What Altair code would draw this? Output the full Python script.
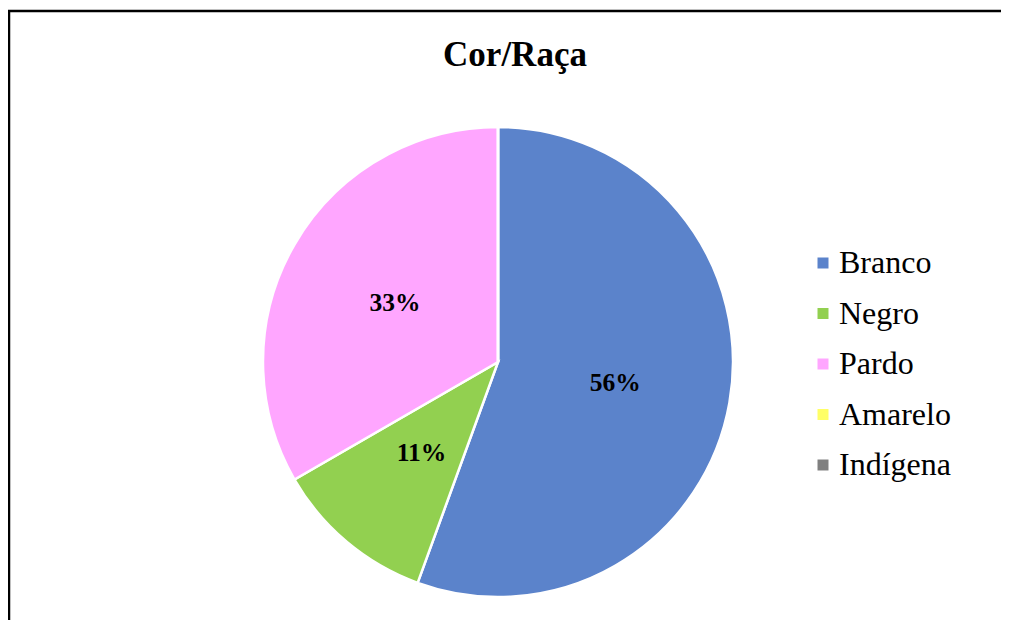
import altair as alt
import pandas as pd

categories = ["Branco", "Negro", "Pardo", "Amarelo", "Indígena"]
counts = [5, 1, 3, 0, 0]
labels = ["56%", "11%", "33%", "", ""]
colors = ["#5B83CB", "#92D050", "#FFA6FF", "#FFFF66", "#808080"]
title_text = "Cor/Raça"

df = pd.DataFrame({"cat": categories, "n": counts, "ord": list(range(len(categories))), "label": labels})
one = pd.DataFrame({"a": [0]})

W, H = 993, 612
cx, cy, R = 490, 354, 235
FONT = "Liberation Serif"

base = alt.Chart(df).encode(
    theta=alt.Theta("n:Q", stack=True),
    order=alt.Order("ord:Q"),
)

pie = base.mark_arc(outerRadius=R, stroke="white", strokeWidth=2.5).encode(
    x=alt.value(cx),
    y=alt.value(cy),
    color=alt.Color(
        "cat:N",
        scale=alt.Scale(domain=categories, range=colors),
        sort=categories,
        legend=alt.Legend(
            orient="none", legendX=799, legendY=239, title=None,
            symbolType="square", symbolSize=121, symbolStrokeWidth=0,
            labelFont=FONT, labelFontSize=32, labelColor="black",
            rowPadding=18.5, labelOffset=0, padding=0,
        ),
    ),
)

text = base.mark_text(radius=119, font=FONT, fontSize=25.5, fontWeight="bold",
                      color="black", baseline="middle", align="center").encode(
    x=alt.value(cx), y=alt.value(cy), text="label:N",
)

title = alt.Chart(one).mark_text(text=title_text, font=FONT, fontSize=35, fontWeight="bold",
                                 color="black", baseline="alphabetic", align="center").encode(
    x=alt.value(507), y=alt.value(58),
)

frame_top = alt.Chart(one).mark_rule(color="black", strokeWidth=2.5).encode(
    x=alt.value(0), x2=alt.value(W), y=alt.value(3),
)
frame_left = alt.Chart(one).mark_rule(color="black", strokeWidth=2.5).encode(
    x=alt.value(1), y=alt.value(2), y2=alt.value(H),
)

chart = alt.layer(frame_top, frame_left, title, pie, text).properties(
    width=W, height=H, autosize=alt.AutoSizeParams(type="none"), padding=0,
    background="white",
).configure_view(stroke=None)

chart.save("out.html", embed_options={"renderer": "svg", "actions": False})
